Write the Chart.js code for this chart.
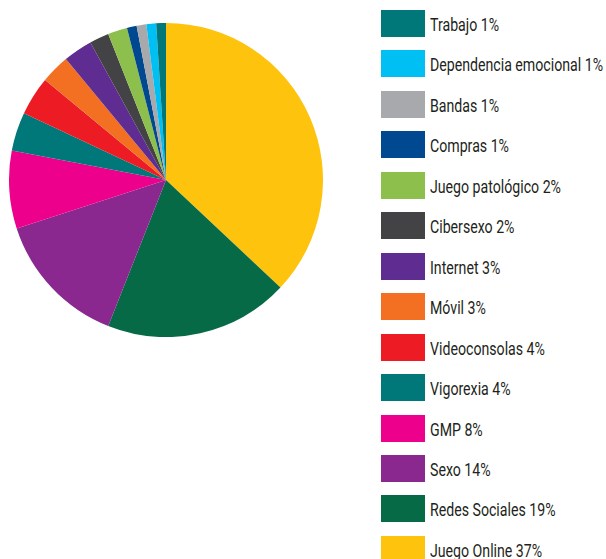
<!DOCTYPE html>
<html>
<head>
<meta charset="utf-8">
<script src="https://cdn.jsdelivr.net/npm/chart.js@4"></script>
<style>
  html, body { margin: 0; padding: 0; background: #fff; }
  body { width: 606px; height: 559px; position: relative; overflow: hidden; }
  #pieBox { position: absolute; left: 9px; top: 23px; width: 314px; height: 314px; }
  #legend { position: absolute; left: 381px; top: 10px; }
  .item { position: absolute; left: 0; height: 27px; display: flex; align-items: center; white-space: nowrap; }
  .box { width: 44px; height: 27px; margin-right: 5px; flex: none; }
  .txt { font-family: Roboto, sans-serif; font-size: 18px; line-height: 18px; color: #231f20; display: inline-block;
         transform-origin: left center; position: relative; top: 1.5px; }
</style>
</head>
<body>
<div id="pieBox"><canvas id="addictionPie"></canvas></div>
<div id="legend"></div>
<script>
// slices in drawing order, clockwise from 12 o'clock
const categories = ['Juego Online', 'Redes Sociales', 'Sexo', 'GMP', 'Vigorexia', 'Videoconsolas', 'Móvil',
    'Internet', 'Cibersexo', 'Juego patológico', 'Compras', 'Bandas', 'Dependencia emocional', 'Trabajo'];
const percents = [37, 19, 14, 8, 4, 4, 3, 3, 2, 2, 1, 1, 1, 1];
const sliceColours = ['#fec30d', '#066a46', '#8a288f', '#ec008c', '#00787a', '#ed1c24', '#f36f21',
    '#5f2d91', '#434346', '#8dbf4c', '#004990', '#a8a9ad', '#00bff3', '#00787a'];

// the original uses a condensed face, so squeeze Roboto to the same width
let measureCtx = document.createElement('canvas').getContext('2d');
measureCtx.font = '18px Roboto';
let squeeze = 173 / measureCtx.measureText('Dependencia emocional 1%').width;

// legend is listed bottom-up (Trabajo first)
let legendDiv = document.getElementById('legend');
for (let i = categories.length - 1, row = 0; i >= 0; i--, row++) {
    let item = document.createElement('div');
    item.className = 'item';
    item.style.top = (row * 40.45) + 'px';
    item.innerHTML = '<div class="box" style="background:' + sliceColours[i] + '"></div>' +
        '<span class="txt" style="transform:scaleX(' + squeeze + ')">' + categories[i] + ' ' + percents[i] + '%</span>';
    legendDiv.appendChild(item);
}

let config = {
    type: 'pie',
    data: {
        labels: categories,
        datasets: [{
            data: percents,
            backgroundColor: sliceColours,
            borderWidth: 0
        }]
    },
    options: {
        responsive: true,
        maintainAspectRatio: false,
        animation: false,
        plugins: {
            legend: { display: false },
            tooltip: { enabled: false }
        }
    }
};

let pieChart = new Chart(document.getElementById('addictionPie'), config);
</script>
</body>
</html>
